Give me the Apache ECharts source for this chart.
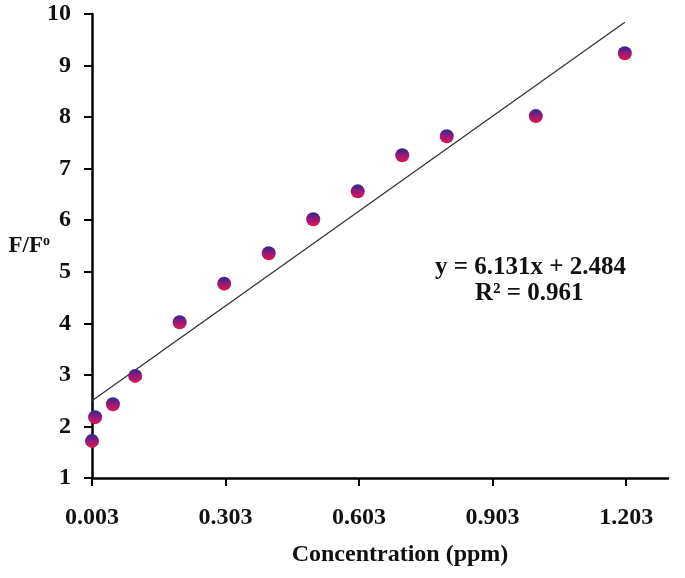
<!DOCTYPE html>
<html>
<head>
<meta charset="utf-8">
<script src="https://cdn.jsdelivr.net/npm/echarts@6/dist/echarts.min.js"></script>
<style>
html,body{margin:0;padding:0;background:#fff;}
#main{width:685px;height:578px;}
</style>
</head>
<body>
<div id="main"></div>
<script>
// Data
var concentrations = [0.003, 0.01, 0.05, 0.1, 0.2, 0.3, 0.4, 0.5, 0.6, 0.7, 0.8, 1.0, 1.2];
var ratioValues    = [1.72, 2.18, 2.43, 2.98, 4.02, 4.77, 5.36, 6.02, 6.56, 7.26, 7.63, 8.02, 9.24];
var xTickValues    = [0.003, 0.303, 0.603, 0.903, 1.203];
var yTickValues    = [1, 2, 3, 4, 5, 6, 7, 8, 9, 10];
var trendX         = [0.003, 1.2];
var trendY         = [2.50, 9.84];
var equationLines  = ['y = 6.131x + 2.484', 'R² = 0.961'];

var FONT = '"Liberation Serif", "Times New Roman", serif';

var chart = echarts.init(document.getElementById('main'), null, {renderer: 'canvas'});

var scatterData = concentrations.map(function (c, i) { return [c, ratioValues[i]]; });
var trendData = trendX.map(function (x, i) { return [x, trendY[i]]; });

chart.setOption({
  animation: false,
  backgroundColor: '#ffffff',
  grid: {left: 92, right: 17, top: 14, bottom: 100, containLabel: false, outerBoundsMode: 'none'},
  xAxis: {
    type: 'value',
    min: 0.003,
    max: 1.297,
    name: 'Concentration (ppm)',
    nameLocation: 'middle',
    nameGap: 65,
    nameMoveOverlap: false,
    nameTextStyle: {fontFamily: FONT, fontWeight: 'bold', fontSize: 24, color: '#111', padding: [0, 0, 0, 40]},
    axisLine: {show: true, lineStyle: {color: '#000', width: 2.5}},
    axisTick: {show: true, length: 8, lineStyle: {color: '#000', width: 2}, customValues: xTickValues},
    axisLabel: {
      fontFamily: FONT, fontWeight: 'bold', fontSize: 24, color: '#111', margin: 28,
      customValues: xTickValues,
      formatter: function (v) { return v.toFixed(3); }
    },
    splitLine: {show: false}
  },
  yAxis: {
    type: 'value',
    min: 1,
    max: 10,
    interval: 1,
    name: '{a|F/F}{b|o}',
    nameLocation: 'middle',
    nameRotate: 0,
    nameGap: 42,
    nameMoveOverlap: false,
    nameTextStyle: {
      padding: [0, 0, 0, 0],
      rich: {
        a: {fontFamily: FONT, fontWeight: 'bold', fontSize: 23, color: '#111'},
        b: {fontFamily: FONT, fontWeight: 'bold', fontSize: 14, color: '#111', padding: [0, 0, 9, 0]}
      }
    },
    axisLine: {show: true, lineStyle: {color: '#000', width: 2.5}},
    axisTick: {show: true, length: 8, lineStyle: {color: '#000', width: 2}},
    axisLabel: {fontFamily: FONT, fontWeight: 'bold', fontSize: 24, color: '#111', margin: 21},
    splitLine: {show: false}
  },
  series: [
    {
      type: 'line',
      data: trendData,
      showSymbol: false,
      symbol: 'none',
      lineStyle: {color: '#333', width: 1.3},
      z: 2,
      silent: true
    },
    {
      type: 'scatter',
      data: scatterData,
      symbol: 'circle',
      symbolSize: 14,
      itemStyle: {
        color: new echarts.graphic.LinearGradient(0, 0, 0, 1, [
          {offset: 0, color: '#2a2890'},
          {offset: 0.5, color: '#961a78'},
          {offset: 1, color: '#e0144c'}
        ]),
        borderWidth: 0,
        opacity: 1
      },
      z: 3
    }
  ],
  graphic: [
    {
      type: 'text',
      left: 435,
      top: 255,
      style: {text: equationLines[0], font: 'bold 25px ' + FONT, fill: '#111'}
    },
    {
      type: 'text',
      left: 475,
      top: 281,
      style: {text: equationLines[1], font: 'bold 25px ' + FONT, fill: '#111'}
    }
  ]
});
</script>
</body>
</html>
